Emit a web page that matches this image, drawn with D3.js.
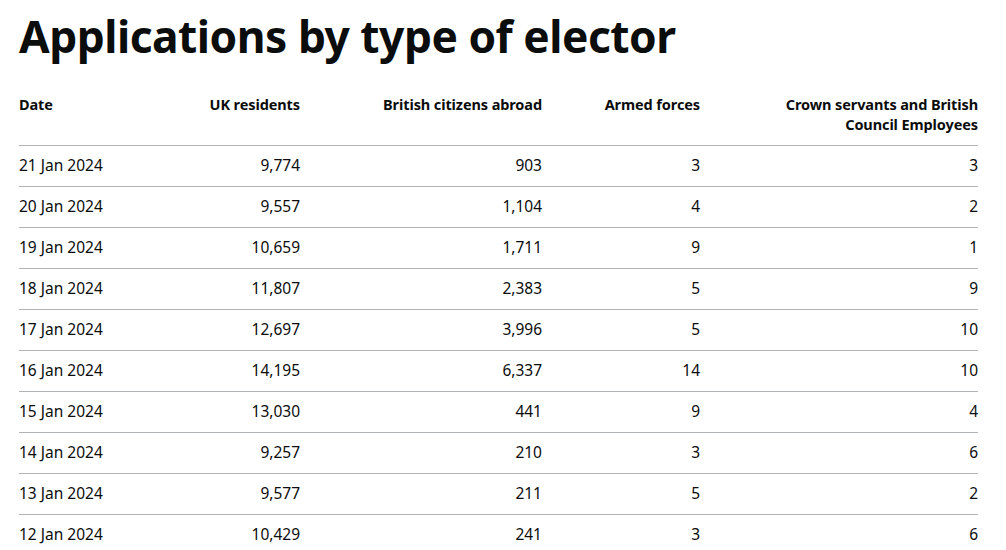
<!DOCTYPE html>
<html><head><meta charset="utf-8">
<script src="https://cdn.jsdelivr.net/npm/d3@7"></script>
<style>
html,body{margin:0;padding:0;background:#fff;}
svg{display:block;}
text{font-family:"Noto Sans",Lato,sans-serif;fill:#0b0c0c;}
</style></head>
<body>
<svg id="c" width="1006" height="550"></svg>
<script>
const title = "Applications by type of elector";
const headers = ["Date", "UK residents", "British citizens abroad", "Armed forces", ["Crown servants and British", "Council Employees"]];
const dates = ["21 Jan 2024","20 Jan 2024","19 Jan 2024","18 Jan 2024","17 Jan 2024","16 Jan 2024","15 Jan 2024","14 Jan 2024","13 Jan 2024","12 Jan 2024"];
const ukResidents = [9774, 9557, 10659, 11807, 12697, 14195, 13030, 9257, 9577, 10429];
const citizensAbroad = [903, 1104, 1711, 2383, 3996, 6337, 441, 210, 211, 241];
const armedForces = [3, 4, 9, 5, 5, 14, 9, 3, 5, 3];
const crownServants = [3, 2, 1, 9, 10, 10, 4, 6, 2, 6];

const svg = d3.select("#c");
const fmt = d3.format(",");
const colEdges = [19, 300, 542, 700, 978]; // left for col 0, right for others
const left = 19, right = 978;

// title
const t = svg.append("text").attr("x", left).attr("y", 53)
  .attr("font-size", 48).attr("font-weight", 700).attr("letter-spacing", -0.5).text(title);
const tw = t.node().getComputedTextLength();
t.attr("font-size", 48 * 658 / tw);

// headers
headers.forEach((h, i) => {
  const lines = Array.isArray(h) ? h : [h];
  const tx = svg.append("text")
    .attr("x", colEdges[i]).attr("y", 110)
    .attr("text-anchor", i === 0 ? "start" : "end")
    .attr("font-size", 14.5).attr("font-weight", 700).attr("letter-spacing", -0.1);
  lines.forEach((l, j) => tx.append("tspan").attr("x", colEdges[i]).attr("dy", j === 0 ? 0 : 20).text(l));
});

// rows
const y = d3.scaleBand().domain(d3.range(dates.length)).range([145, 145 + 41 * dates.length]).paddingInner(0).paddingOuter(0);

const rows = dates.map((d, i) => [d, fmt(ukResidents[i]), fmt(citizensAbroad[i]), fmt(armedForces[i]), fmt(crownServants[i])]);

// lines
svg.selectAll("line.r").data(d3.range(dates.length)).join("line")
  .attr("x1", left).attr("x2", right)
  .attr("y1", i => y(i) + 0.5).attr("y2", i => y(i) + 0.5)
  .attr("stroke", "#b1b4b6").attr("stroke-width", 1);

const g = svg.selectAll("g.row").data(rows).join("g")
  .attr("transform", (d, i) => `translate(0,${y(i) + y.bandwidth() / 2})`);
g.selectAll("text").data(d => d).join("text")
  .attr("x", (d, j) => colEdges[j])
  .attr("text-anchor", (d, j) => j === 0 ? "start" : "end")
  .attr("dy", "0.35em")
  .attr("font-size", 15.5)
  .text(d => d);
</script>
</body></html>
